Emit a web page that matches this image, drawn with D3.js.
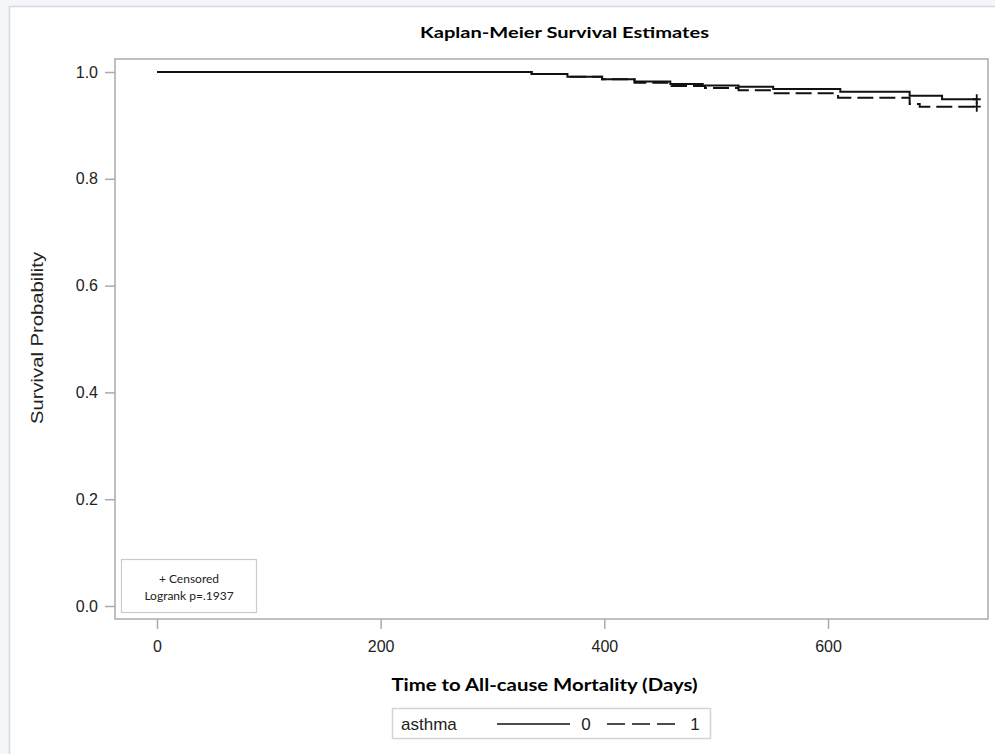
<!DOCTYPE html>
<html>
<head>
<meta charset="utf-8">
<script src="https://cdn.jsdelivr.net/npm/d3@7"></script>
<style>
  html, body { margin: 0; padding: 0; background: #f5f6fa; }
  svg { display: block; }
</style>
</head>
<body>
<svg id="chart" width="995" height="754"></svg>
<script>
// ---- data ----
const groups = ["0", "1"];
const legendTitle = "asthma";
const times0 = [0, 335, 367, 398, 427, 459, 488, 520, 551, 611, 673, 702];
const surv0  = [1.0, 0.9963, 0.991, 0.9863, 0.982, 0.9775, 0.9747, 0.9725, 0.968, 0.963, 0.9556, 0.949];
const times1 = [0, 335, 367, 398, 427, 460, 490, 520, 551, 609, 673, 682];
const surv1  = [1.0, 0.9963, 0.991, 0.9863, 0.980, 0.9738, 0.970, 0.966, 0.960, 0.952, 0.940, 0.935];
const censorTime = [733, 733];
const xTicks = [0, 200, 400, 600];
const yTicks = [0.0, 0.2, 0.4, 0.6, 0.8, 1.0];
const titleText = "Kaplan-Meier Survival Estimates";
const xTitle = "Time to All-cause Mortality (Days)";
const yTitle = "Survival Probability";
const insetLines = ["+ Censored", "Logrank p=.1937"];

const svg = d3.select("#chart");
const W = 995, H = 754;

// page panel
svg.append("rect").attr("x", 0).attr("y", 0).attr("width", W).attr("height", H).attr("fill", "#f5f6fa");
svg.append("rect").attr("x", 9.5).attr("y", 6.5).attr("width", W).attr("height", H)
  .attr("fill", "#ffffff").attr("stroke", "#d6d8df").attr("stroke-width", 1.5);

const frame = {left: 115, top: 59, right: 988, bottom: 619};
const x = d3.scaleLinear().domain([0, 600]).range([157, 828]);
const y = d3.scaleLinear().domain([0, 1]).range([606, 72]);

// title
svg.append("text").attr("x", 564.5).attr("y", 38).attr("text-anchor", "middle")
  .attr("font-family", "Lato, 'Open Sans', sans-serif").attr("font-weight", "bold")
  .attr("font-size", 16).attr("fill", "#000")
  .attr("textLength", 289).attr("lengthAdjust", "spacingAndGlyphs")
  .text(titleText);

// frame
svg.append("rect").attr("x", frame.left).attr("y", frame.top)
  .attr("width", frame.right - frame.left).attr("height", frame.bottom - frame.top)
  .attr("fill", "none").attr("stroke", "#a9abb0").attr("stroke-width", 1.5);

// axes
const yAxis = d3.axisLeft(y).tickValues(yTicks).tickFormat(d3.format(".1f")).tickSize(10).tickPadding(7);
const gy = svg.append("g").attr("transform", `translate(${frame.left},0)`).call(yAxis);
const xAxis = d3.axisBottom(x).tickValues(xTicks).tickFormat(d3.format("d")).tickSize(10).tickPadding(12);
const gx = svg.append("g").attr("transform", `translate(0,${frame.bottom})`).call(xAxis);
[gx, gy].forEach(g => {
  g.select(".domain").remove();
  g.selectAll(".tick line").attr("stroke", "#a9abb0").attr("stroke-width", 1.5);
  g.selectAll(".tick text").attr("font-family", "'Liberation Sans', Arial, sans-serif")
    .attr("font-size", 16).attr("fill", "#222");
});

// axis titles
svg.append("text").attr("transform", "translate(43,338) rotate(-90)").attr("text-anchor", "middle")
  .attr("font-family", "'Liberation Sans', Arial, sans-serif").attr("font-size", 17).attr("fill", "#222")
  .attr("textLength", 172).attr("lengthAdjust", "spacingAndGlyphs")
  .text(yTitle);
svg.append("text").attr("x", 544.5).attr("y", 691).attr("text-anchor", "middle")
  .attr("font-family", "Lato, 'Open Sans', sans-serif").attr("font-weight", "bold")
  .attr("font-size", 16.5).attr("fill", "#000")
  .attr("textLength", 306).attr("lengthAdjust", "spacingAndGlyphs")
  .text(xTitle);

// curves
const series = [
  {times: times0, surv: surv0, dash: null, cens: censorTime[0]},
  {times: times1, surv: surv1, dash: "16,6", cens: censorTime[1]}
];
const line = d3.line().x(d => x(d[0])).y(d => y(d[1])).curve(d3.curveStepAfter);
series.forEach(s => {
  const pts = s.times.map((t, i) => [t, s.surv[i]]);
  pts.push([s.cens, s.surv[s.surv.length - 1]]);
  svg.append("path").datum(pts).attr("d", line).attr("fill", "none")
    .attr("stroke", "#111").attr("stroke-width", 2)
    .attr("stroke-dasharray", s.dash);
  // censor plus
  const cx = x(s.cens), cy = y(s.surv[s.surv.length - 1]);
  svg.append("path").attr("d", `M${cx - 4},${cy}H${cx + 4}M${cx},${cy - 5}V${cy + 5}`)
    .attr("stroke", "#111").attr("stroke-width", 1.8).attr("fill", "none");
});

// inset box
svg.append("rect").attr("x", 121.5).attr("y", 559.5).attr("width", 135).attr("height", 53)
  .attr("fill", "#fff").attr("stroke", "#c9cbd0").attr("stroke-width", 1.2);
insetLines.forEach((t, i) => {
  svg.append("text").attr("x", 189).attr("y", 583 + i * 17).attr("text-anchor", "middle")
    .attr("font-family", "Lato, 'Open Sans', sans-serif").attr("font-size", 12).attr("fill", "#222")
    .text(t);
});

// legend
const lg = svg.append("g");
lg.append("rect").attr("x", 392.5).attr("y", 708.5).attr("width", 318).attr("height", 30)
  .attr("fill", "#fff").attr("stroke", "#d2d4d9").attr("stroke-width", 1.5);
lg.append("text").attr("x", 401).attr("y", 730)
  .attr("font-family", "'Liberation Sans', Arial, sans-serif").attr("font-size", 17).attr("fill", "#222")
  .text(legendTitle);
const legItems = [
  {x1: 497, x2: 570, tx: 586, dash: null, label: groups[0]},
  {x1: 607, x2: 676, tx: 695, dash: "18,7", label: groups[1]}
];
legItems.forEach(it => {
  lg.append("line").attr("x1", it.x1).attr("x2", it.x2).attr("y1", 724).attr("y2", 724)
    .attr("stroke", "#111").attr("stroke-width", 1.6).attr("stroke-dasharray", it.dash);
  lg.append("text").attr("x", it.tx).attr("y", 730).attr("text-anchor", "middle")
    .attr("font-family", "'Liberation Sans', Arial, sans-serif").attr("font-size", 17).attr("fill", "#222")
    .text(it.label);
});
</script>
</body>
</html>
